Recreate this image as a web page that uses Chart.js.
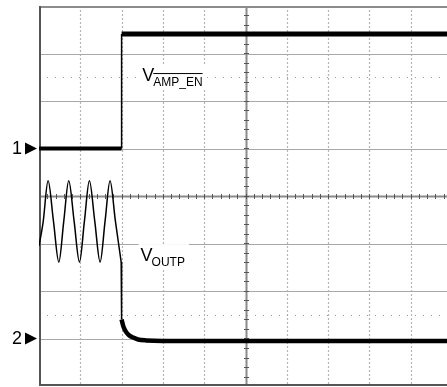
<!DOCTYPE html>
<html><head><meta charset="utf-8">
<script src="https://cdn.jsdelivr.net/npm/chart.js@4/dist/chart.umd.min.js"></script>
<style>html,body{margin:0;padding:0;background:#fff;overflow:hidden;}#wrap{width:460px;height:387px;}</style>
</head><body><div id="wrap"><canvas id="c" width="460" height="387"></canvas></div>
<script>
// Screen divisions (x: time divisions, y: vertical divisions, 0 = centre)
const gridX = [0,1,2,3,4,5,6,7,8,9,10];
const gridY = [-4,-3,-2,-1,0,1,2,3,4];
const cursorY = [2.5, -2.5];
// Channel 1 : V_AMP_EN
const ampEnLowX = [0, 2.0];
const ampEnLowY = [1.0, 1.0];
const ampEnStepX = [2.0, 2.0];
const ampEnStepY = [1.0, 3.41];
const ampEnHighX = [2.0, 10];
const ampEnHighY = [3.41, 3.41];
// Channel 2 : V_OUTP (sine burst, then decay)
const outpSineX = [0.0, 0.1, 0.22, 0.35, 0.48, 0.60, 0.72, 0.85, 0.98, 1.10, 1.22, 1.35, 1.48, 1.60, 1.72, 1.85, 1.99];
const outpSineY = [-1.05, -0.55, 0.32, -0.53, -1.39, -0.53, 0.32, -0.53, -1.39, -0.53, 0.32, -0.53, -1.39, -0.53, 0.32, -0.53, -1.39];
const outpDropX = [1.99, 2.0, 2.0];
const outpDropY = [-1.39, -1.39, -2.6];
const outpDecayX = [2.0, 2.04, 2.1, 2.18, 2.28, 2.4, 2.6, 3.0, 10];
const outpDecayY = [-2.6, -2.74, -2.85, -2.93, -2.98, -3.02, -3.04, -3.05, -3.05];
const markers = [{label:'1', y:1.0}, {label:'2', y:-3.0}];

const pts = (xs, ys) => xs.map((x,i)=>({x, y: ys[i]}));

const scopePlugin = {
  id: 'scope',
  beforeDatasetsDraw(chart) {
    const {ctx, chartArea: a, scales: {x, y}} = chart;
    ctx.save();
    // vertical dashed grid
    ctx.strokeStyle = '#b4b4b4'; ctx.lineWidth = 1.2; ctx.setLineDash([2,2]);
    gridX.forEach(v => { if (v === 5 || v === 0) return; const px = Math.round(x.getPixelForValue(v)) + 0.5;
      ctx.beginPath(); ctx.moveTo(px, a.top); ctx.lineTo(px, a.bottom); ctx.stroke(); });
    ctx.setLineDash([]);
    // horizontal solid grid
    ctx.strokeStyle = '#a8a8a8'; ctx.lineWidth = 1;
    gridY.forEach(v => { if (v === 0 || v === 4 || v === -4) return; const py = Math.round(y.getPixelForValue(v)) + 0.5;
      ctx.beginPath(); ctx.moveTo(a.left, py); ctx.lineTo(a.right, py); ctx.stroke(); });
    // cursor dotted lines
    ctx.strokeStyle = '#9a9a9a'; ctx.setLineDash([1,7]);
    cursorY.forEach(v => { const py = Math.round(y.getPixelForValue(v)) + 0.5;
      ctx.beginPath(); ctx.moveTo(a.left + 8, py); ctx.lineTo(a.right, py); ctx.stroke(); });
    ctx.setLineDash([]);
    // centre axes with minor ticks
    const cx = Math.round(x.getPixelForValue(5)) + 0.5, cy = Math.round(y.getPixelForValue(0)) + 0.5;
    ctx.strokeStyle = '#8a8a8a'; ctx.lineWidth = 2;
    ctx.beginPath(); ctx.moveTo(cx, a.top); ctx.lineTo(cx, a.bottom); ctx.stroke();
    ctx.beginPath(); ctx.moveTo(a.left, cy); ctx.lineTo(a.right, cy); ctx.stroke();
    ctx.strokeStyle = '#555'; ctx.lineWidth = 1;
    for (let v = 0.2; v < 10; v += 0.2) { const px = Math.round(x.getPixelForValue(v)) + 0.5;
      ctx.beginPath(); ctx.moveTo(px, cy - 2.5); ctx.lineTo(px, cy + 2.5); ctx.stroke(); }
    for (let v = -3.8; v < 4; v += 0.2) { const py = Math.round(y.getPixelForValue(v)) + 0.5;
      ctx.beginPath(); ctx.moveTo(cx - 2.5, py); ctx.lineTo(cx + 2.5, py); ctx.stroke(); }
    // borders
    ctx.strokeStyle = '#8c8c8c'; ctx.lineWidth = 2;
    ctx.beginPath(); ctx.moveTo(a.left, a.top + 1); ctx.lineTo(a.right, a.top + 1); ctx.stroke();
    ctx.strokeStyle = '#555'; ctx.lineWidth = 2;
    ctx.beginPath(); ctx.moveTo(a.left + 1, a.top); ctx.lineTo(a.left + 1, a.bottom); ctx.stroke();
    ctx.beginPath(); ctx.moveTo(a.left, a.bottom - 1); ctx.lineTo(a.right, a.bottom - 1); ctx.stroke();
    ctx.restore();
  },
  afterDatasetsDraw(chart) {
    const {ctx, chartArea: a, scales: {x, y}} = chart;
    ctx.save();
    // labels
    const drawLabel = (main, sub, vx, vy, over) => {
      const px = x.getPixelForValue(vx), py = y.getPixelForValue(vy);
      ctx.font = '18px "Liberation Sans", Arial, sans-serif';
      const w1 = ctx.measureText(main).width;
      ctx.font = '12px "Liberation Sans", Arial, sans-serif';
      const w2 = ctx.measureText(sub).width;
      ctx.fillStyle = '#fff';
      ctx.fillRect(px - 2, py - 17, w1 + w2 + 5, 26);
      ctx.fillStyle = '#000'; ctx.textBaseline = 'alphabetic'; ctx.textAlign = 'left';
      ctx.font = '18px "Liberation Sans", Arial, sans-serif';
      ctx.fillText(main, px, py);
      ctx.font = '12px "Liberation Sans", Arial, sans-serif';
      ctx.fillText(sub, px + w1 - 1, py + 5);
      if (over) { ctx.strokeStyle = '#000'; ctx.lineWidth = 1;
        ctx.beginPath(); ctx.moveTo(px + w1 - 1, py - 7.5); ctx.lineTo(px + w1 - 1 + w2, py - 7.5); ctx.stroke(); }
    };
    drawLabel('V', 'AMP_EN', 2.5, 2.42, true);
    drawLabel('V', 'OUTP', 2.46, -1.37, false);
    // channel markers
    markers.forEach(m => { const py = y.getPixelForValue(m.y);
      ctx.fillStyle = '#000'; ctx.font = '18px "Liberation Sans", Arial, sans-serif';
      ctx.textAlign = 'left'; ctx.textBaseline = 'middle';
      ctx.fillText(m.label, 12, py + 1);
      ctx.beginPath(); ctx.moveTo(25, py - 6); ctx.lineTo(37, py); ctx.lineTo(25, py + 6); ctx.closePath(); ctx.fill(); });
    ctx.restore();
  }
};

const ds = (data, w, extra) => Object.assign({data, borderColor:'#000', borderWidth:w, pointRadius:0, fill:false, tension:0, borderJoinStyle:'miter'}, extra||{});

new Chart(document.getElementById('c'), {
  type: 'line',
  data: { datasets: [
    ds(pts(ampEnLowX, ampEnLowY), 4),
    ds(pts(ampEnStepX, ampEnStepY), 1.5),
    ds(pts(ampEnHighX, ampEnHighY), 5),
    ds(pts(outpSineX, outpSineY), 1.5, {cubicInterpolationMode:'monotone'}),
    ds(pts(outpDropX, outpDropY), 1.5),
    ds(pts(outpDecayX, outpDecayY), 4.5, {cubicInterpolationMode:'monotone'})
  ]},
  options: {
    responsive: false, animation: false, events: [],
    layout: { padding: { left: 39, right: 8, top: 6, bottom: 1 } },
    plugins: { legend: {display:false}, tooltip: {enabled:false}, title:{display:false} },
    scales: {
      x: { type:'linear', min:0, max:10, display:false },
      y: { type:'linear', min:-4, max:4, display:false }
    }
  },
  plugins: [scopePlugin]
});
</script></body></html>
